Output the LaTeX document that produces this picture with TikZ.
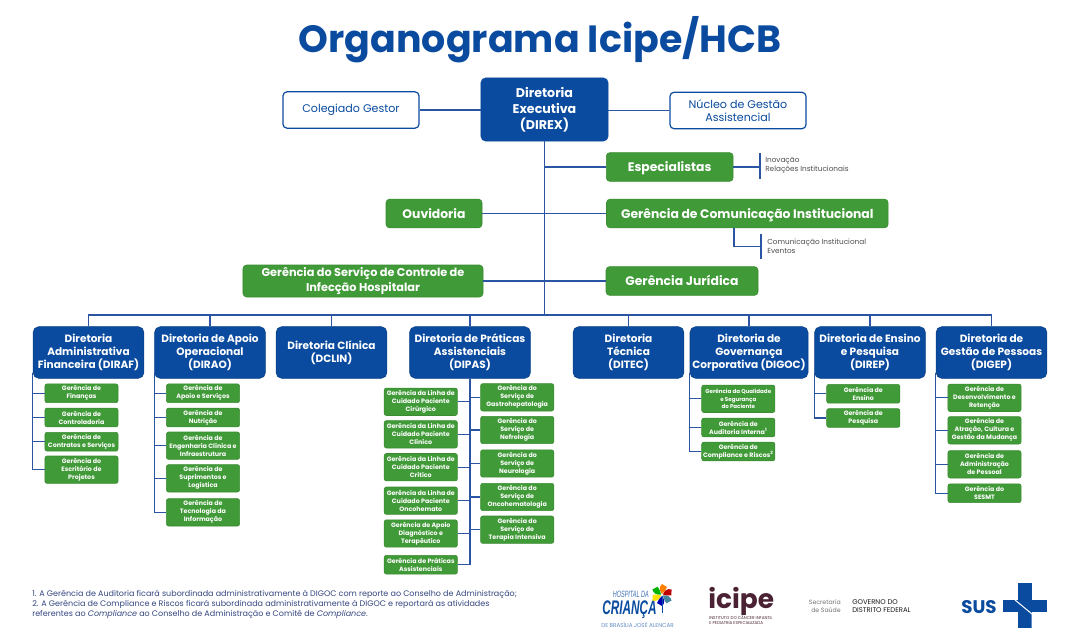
\documentclass[tikz,border=0pt]{standalone}
\usepackage{fontspec}
\setmainfont{Poppins}
\newfontfamily\estreita[FakeStretch=.6]{Liberation Sans}
\usetikzlibrary{calc}

\definecolor{azulH}{HTML}{0A4B9F}
\definecolor{verdeH}{HTML}{409A37}
\definecolor{linhaH}{HTML}{2B55A3}
\definecolor{notaH}{HTML}{34467F}
\definecolor{vinhoH}{HTML}{4A2233}

\newcommand{\fsz}[2]{\fontsize{#1}{#2}\selectfont}

\tikzset{
	dirbox/.style={draw=azulH!85!black, fill=azulH, text=white, rounded corners=1.4mm, align=center, inner sep=0, minimum width=27.7mm, minimum height=12.9mm, font=\fsz{7.5}{9.2}\bfseries},
	topobox/.style={draw=azulH, fill=azulH, text=white, rounded corners=1.2mm, align=center, inner sep=0, minimum width=31.8mm, minimum height=15.8mm, font=\fsz{9}{11.4}\bfseries},
	brancobox/.style={draw=azulH, line width=.3mm, fill=white, text=azulH, rounded corners=1mm, align=center, inner sep=0, minimum width=34mm, minimum height=9.1mm, font=\fsz{7.9}{9.3}},
	verdebox/.style={draw=verdeH!90!black, fill=verdeH, text=white, rounded corners=.9mm, align=center, inner sep=0, minimum height=7.2mm, font=\fsz{8.8}{10.4}\bfseries},
	verdeum/.style={verdebox, text height=3mm, text depth=.6mm},
	gerbox/.style={draw=verdeH!90!black, fill=verdeH, text=white, rounded corners=.55mm, align=center, inner sep=0, minimum width=18.3mm, font=\fsz{4.5}{5.7}\bfseries},
	gerdois/.style={gerbox, minimum height=4.7mm},
	gertres/.style={gerbox, minimum height=6.85mm},
	linha/.style={draw=linhaH, line width=.26mm},
	lista/.style={anchor=west, align=left, inner sep=0, text=black!70, font=\fsz{5.2}{6.4}},
}

\begin{document}
\begin{tikzpicture}[x=.25mm, y=-.25mm]
	\useasboundingbox (0,0) rectangle (1080,642);

	\node[font=\fsz{27}{30}\bfseries, text=azulH, inner sep=0] (titulo) at (540,40) {Organograma Icipe/HCB};

	% topo
	\node[topobox] (DIREX) at (544.5,109.5) {Diretoria\\Executiva\\(DIREX)};
	\node[brancobox] (Coleg) at (351,110) {Colegiado Gestor};
	\node[brancobox] (Nucleo) at (738,110.5) {Núcleo de Gestão\\Assistencial};
	\node[verdeum, minimum width=31.7mm] (Espec) at (669.7,167) {Especialistas};
	\node[verdeum, minimum width=70.4mm] (GCom) at (747.3,213.5) {Gerência de Comunicação Institucional};
	\node[verdeum, minimum width=24mm] (Ouvid) at (434,213.5) {Ouvidoria};
	\node[verdebox, minimum width=60mm, minimum height=8mm, font=\fsz{8.05}{10.2}\bfseries] (GCCIH) at (363,281) {Gerência do Serviço de Controle de\\Infecção Hospitalar};
	\node[verdeum, minimum width=38mm] (GJur) at (682,281) {Gerência Jurídica};

	\node[lista] (lEspec) at (765,165.5) {Inovação\\Relações Institucionais};
	\node[lista] (lCom) at (767,246.5) {Comunicação Institucional\\Eventos};

	% diretorias
	\node[dirbox] (DIRAF) at (88.5,352.5) {Diretoria\\Administrativa\\Financeira (DIRAF)};
	\node[dirbox] (DIRAO) at (210,352.5) {Diretoria de Apoio\\Operacional\\(DIRAO)};
	\node[dirbox] (DCLIN) at (331.5,352.5) {Diretoria Clínica\\(DCLIN)};
	\node[dirbox, minimum width=30.2mm] (DIPAS) at (470,352.5) {Diretoria de Práticas\\Assistenciais\\(DIPAS)};
	\node[dirbox] (DITEC) at (628.5,352.5) {Diretoria\\Técnica\\(DITEC)};
	\node[dirbox, minimum width=29.5mm] (DIGOC) at (749,352.5) {Diretoria de\\Governança\\Corporativa (DIGOC)};
	\node[dirbox] (DIREP) at (870,352.5) {Diretoria de Ensino\\e Pesquisa\\(DIREP)};
	\node[dirbox] (DIGEP) at (991.5,352.5) {Diretoria de\\Gestão de Pessoas\\(DIGEP)};

	% DIRAF
	\node[gerdois] (gFin) at (81.5,393.3) {Gerência de\\Finanças};
	\node[gerdois] (gCtrl) at (81.5,417.5) {Gerência de\\Controladoria};
	\node[gerdois] (gCont) at (81.5,441.7) {Gerência de\\Contratos e Serviços};
	\node[gertres] (gProj) at (81.5,469.7) {Gerência do\\Escritório de\\Projetos};

	% DIRAO
	\node[gerdois] (gApoio) at (203,393.3) {Gerência de\\Apoio e Serviços};
	\node[gerdois] (gNutr) at (203,417.5) {Gerência de\\Nutrição};
	\node[gertres] (gEng) at (203,445.7) {Gerência de\\Engenharia Clínica e\\Infraestrutura};
	\node[gertres] (gSup) at (203,478.3) {Gerência de\\Suprimentos e\\Logística};
	\node[gertres] (gTec) at (203,512.3) {Gerência de\\Tecnologia da\\Informação};

	% DIPAS
	\node[gertres] (gCir) at (420.8,401.8) {Gerência da Linha de\\Cuidado Paciente\\Cirúrgico};
	\node[gertres] (gCli) at (420.8,434.3) {Gerência da Linha de\\Cuidado Paciente\\Clínico};
	\node[gertres] (gCri) at (420.8,467.2) {Gerência da Linha de\\Cuidado Paciente\\Crítico};
	\node[gertres] (gOnc) at (420.8,500.7) {Gerência da Linha de\\Cuidado Paciente\\Oncohemato};
	\node[gertres] (gDiag) at (420.8,533.5) {Gerência de Apoio\\Diagnóstico e\\Terapêutico};
	\node[gerdois] (gPrat) at (420.8,564.7) {Gerência de Práticas\\Assistenciais};
	\node[gertres] (gGast) at (517.2,397.3) {Gerência do\\Serviço de\\Gastrohepatologia};
	\node[gertres] (gNefr) at (517.2,430) {Gerência do\\Serviço de\\Nefrologia};
	\node[gertres] (gNeur) at (517.2,463.5) {Gerência do\\Serviço de\\Neurologia};
	\node[gertres] (gOnco) at (517.2,497) {Gerência do\\Serviço de\\Oncohematologia};
	\node[gertres] (gTera) at (517.2,529.7) {Gerência do\\Serviço de\\Terapia Intensiva};

	% DIGOC
	\node[gertres, font=\fsz{3.95}{5.2}\bfseries] (gQual) at (738.3,398.8) {Gerência da Qualidade\\e Segurança\\do Paciente};
	\node[gerdois] (gAud) at (738.3,427.5) {Gerência de\\Auditoria Interna\textsuperscript{1}};
	\node[gerdois] (gComp) at (738.3,451.5) {Gerência de\\Compliance e Riscos\textsuperscript{2}};

	% DIREP
	\node[gerdois] (gEns) at (863.3,393.8) {Gerência de\\Ensino};
	\node[gerdois] (gPesq) at (863.3,418) {Gerência de\\Pesquisa};

	% DIGEP
	\node[gertres] (gDes) at (984.5,397.8) {Gerência de\\Desenvolvimento e\\Retenção};
	\node[gertres] (gAtr) at (984.5,430.3) {Gerência de\\Atração, Cultura e\\Gestão da Mudança};
	\node[gertres] (gAdm) at (984.5,464.3) {Gerência de\\Administração\\de Pessoal};
	\node[gerdois] (gSes) at (984.5,493.2) {Gerência do\\SESMT};

	% ligacoes do topo
	\coordinate (barra) at (544.5,315);
	\draw[linha] (DIREX.south) -- (barra);
	\draw[linha] (Coleg.east) -- (Coleg.east -| DIREX.west);
	\draw[linha] (Nucleo.west) -- (Nucleo.west -| DIREX.east);
	\draw[linha] (Espec.west) -- (Espec.west -| barra);
	\draw[linha] (GCom.west) -- (GCom.west -| barra);
	\draw[linha] (Ouvid.east) -- (Ouvid.east -| barra);
	\draw[linha] (GCCIH.east) -- (GCCIH.east -| barra);
	\draw[linha] (GJur.west) -- (GJur.west -| barra);

	\coordinate (vEspA) at (760,153);
	\coordinate (vEspB) at (760,179);
	\draw[linha] (vEspA) -- (vEspB);
	\draw[linha] (Espec.east) -- (Espec.east -| vEspA);
	\coordinate (saiCom) at (734,227.7);
	\coordinate (vComA) at (761,233.5);
	\coordinate (vComB) at (761,259);
	\draw[linha] (vComA) -- (vComB);
	\draw[linha] (saiCom) |- ($(vComA)!.5!(vComB)$);

	\foreach \d in {DIRAF,DIRAO,DCLIN,DIPAS,DITEC,DIGOC,DIREP,DIGEP}
		\draw[linha] (\d.north) |- (barra);

	% ligacoes das gerencias
	\foreach \d/\lista in {DIRAF/{gFin,gCtrl,gCont,gProj}, DIRAO/{gApoio,gNutr,gEng,gSup,gTec}, DIGOC/{gQual,gAud,gComp}, DIREP/{gEns,gPesq}, DIGEP/{gDes,gAtr,gAdm,gSes}}
		\foreach \g in \lista
			\draw[linha] ([yshift=1.5mm]\d.south west) |- (\g.west);
	\foreach \g in {gCir,gCli,gCri,gOnc,gDiag,gPrat}
		\draw[linha] (DIPAS.south) |- (\g.east);
	\foreach \g in {gGast,gNefr,gNeur,gOnco,gTera}
		\draw[linha] (DIPAS.south) |- (\g.west);

	% notas
	\node[anchor=north west, align=left, inner sep=0, text=notaH, font=\fsz{5.7}{7.1}] (notas) at (32,590) {1. A Gerência de Auditoria ficará subordinada administrativamente à DIGOC com reporte ao Conselho de Administração;\\2. A Gerência de Compliance e Riscos ficará subordinada administrativamente à DIGOC e reportará as atividades\\referentes ao \textit{Compliance} ao Conselho de Administração e Comitê de \textit{Compliance}.};

	% logo hospital
	\node[anchor=base east, inner sep=0, text=azulH!80!white, font=\estreita\fsz{6.5}{7}\itshape] (hospA) at (649,597.5) {HOSPITAL DA};
	\node[anchor=base east, inner sep=0, text=azulH, font=\estreita\fsz{14}{15}\bfseries\itshape] (hospB) at (657,614) {CRIANÇA};
	\node[anchor=west, inner sep=0, text=azulH!65!white, font=\fsz{4}{5}] (hospC) at (601,625) {DE BRASÍLIA JOSÉ ALENCAR};
	\foreach \a/\c in {0/orange, 60/green!70!black, 120/yellow!85!orange, 180/blue!70!black, 240/cyan!60!black, 300/red!75!black}
		\fill[\c, rotate around={\a:(662,595)}] (662,594) .. controls (659,590) and (659,587) .. (662,584) -- (667,587) .. controls (666,590) and (664,592) .. (662,594) -- cycle;
	\draw[azulH, line width=.25mm] (662,596) -- (662,613);

	% logo icipe
	\node[anchor=base west, inner sep=0, text=vinhoH, font=\fsz{18.8}{20}\bfseries] (icipe) at (708,608) {icipe};
	\node[anchor=north west, align=left, inner sep=0, text=vinhoH, font=\fsz{2.95}{3.8}] (icipeB) at (709,615) {INSTITUTO DO CÂNCER INFANTIL\\E PEDIATRIA ESPECIALIZADA};

	% logo df
	\node[anchor=east, align=right, inner sep=0, text=black!55, font=\fsz{4.4}{6}] (secr) at (841,606) {Secretaria\\de Saúde};
	\node[anchor=west, align=left, inner sep=0, text=black!90, font=\fsz{4.9}{6}] (gdf) at (852,606) {GOVERNO DO\\DISTRITO FEDERAL};

	% logo sus
	\node[anchor=west, inner sep=0, text=azulH, font=\fsz{13}{14}\bfseries] (sus) at (961,607) {SUS};
	\fill[azulH] (1018,583) rectangle (1032,628);
	\fill[azulH] (1003,600) rectangle (1047,612);
	\draw[white, line width=.25mm] (1015,600) -- (1032,614) -- (1032,628);
\end{tikzpicture}
\end{document}
